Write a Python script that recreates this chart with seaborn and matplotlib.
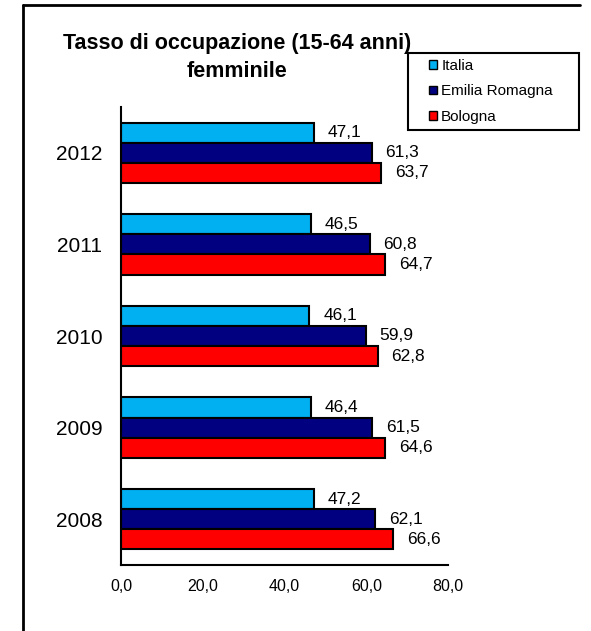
import matplotlib
matplotlib.use("Agg")
import matplotlib.pyplot as plt
from matplotlib.lines import Line2D
from matplotlib.patches import Patch, Rectangle
import seaborn as sns
import pandas as pd

years = ["2012", "2011", "2010", "2009", "2008"]
italia = [47.1, 46.5, 46.1, 46.4, 47.2]
emilia = [61.3, 60.8, 59.9, 61.5, 62.1]
bologna = [63.7, 64.7, 62.8, 64.6, 66.6]
series = ["Italia", "Emilia Romagna", "Bologna"]
colors = ["#00B0F0", "#000080", "#FF0000"]
x_ticks = [0, 20, 40, 60, 80]
title1 = "Tasso di occupazione (15-64 anni)"
title2 = "femminile"

values = [italia, emilia, bologna]
df = pd.DataFrame({
    "Anno": years * 3,
    "Valore": italia + emilia + bologna,
    "Area": [s for s in series for _ in years],
})

def fmt(v):
    return f"{v:.1f}".replace(".", ",")

sns.set_style("white")
plt.rcParams['font.family'] = ['Liberation Sans', 'DejaVu Sans']
plt.rcParams['text.color'] = 'black'
plt.rcParams['axes.labelcolor'] = 'black'
plt.rcParams['xtick.color'] = 'black'
plt.rcParams['ytick.color'] = 'black'

W, H = 591, 631
fig = plt.figure(figsize=(W / 100, H / 100), dpi=100)
ax = fig.add_axes([121 / W, 1 - 565 / H, (448 - 121) / W, (565 - 107) / H])

sns.barplot(data=df, x="Valore", y="Anno", hue="Area", order=years,
            hue_order=series, palette=colors, orient="h", width=0.66,
            saturation=1, edgecolor="black", linewidth=1.5, errorbar=None,
            legend=False, ax=ax)

ax.set_xlim(0, 80)
ax.set_ylim(4.5, -0.5)
ax.set_xlabel("")
ax.set_ylabel("")

for s in ["top", "right"]:
    ax.spines[s].set_visible(False)
for s in ["left", "bottom"]:
    ax.spines[s].set_color("black")
    ax.spines[s].set_linewidth(1.5)

ax.set_xticks(x_ticks)
ax.set_xticklabels([fmt(v) for v in x_ticks], fontsize=11.5, color="black")
ax.tick_params(axis="x", direction="out", length=4, width=1.2, pad=6, colors="black")
ax.set_yticks(range(len(years)))
ax.set_yticklabels(years, fontsize=15, color="black")
ax.tick_params(axis="y", which="major", length=0, pad=13.5)
ax.set_yticks([i - 0.5 for i in range(len(years) + 1)], minor=True)
ax.tick_params(axis="y", which="minor", direction="out", length=6, width=1.5, color="black")

for cont, vals in zip(ax.containers, values):
    ax.bar_label(cont, labels=[fmt(v) for v in vals], padding=10, fontsize=12.5, color="black")

# outer frame (top and left)
fig.add_artist(Line2D([23 / W, 23 / W], [0, 1 - 5 / H], color="black", lw=2, transform=fig.transFigure))
fig.add_artist(Line2D([23 / W, 580 / W], [1 - 5 / H, 1 - 5 / H], color="black", lw=2, transform=fig.transFigure))

# title
fig.text(237 / W, 1 - 49 / H, title1, ha="center", va="baseline", fontsize=15.5, fontweight="bold", color="black")
fig.text(237 / W, 1 - 77 / H, title2, ha="center", va="baseline", fontsize=15.5, fontweight="bold", color="black")

# legend
fig.add_artist(Rectangle((408 / W, 1 - 130 / H), (579 - 408) / W, (130 - 53) / H,
                         transform=fig.transFigure, facecolor="white", edgecolor="black", lw=1.5))
handles = [Patch(facecolor=c, edgecolor="black", lw=1) for c in colors]
leg = fig.legend(handles, series, loc="center left", bbox_to_anchor=(429 / W, 1 - 91.5 / H),
                 frameon=False, fontsize=11, handlelength=0.5, handleheight=0.5,
                 handletextpad=0.3, labelspacing=0.75, borderpad=0, borderaxespad=0)
for t in leg.get_texts():
    t.set_color("black")

fig.savefig("out.png", dpi=100)
